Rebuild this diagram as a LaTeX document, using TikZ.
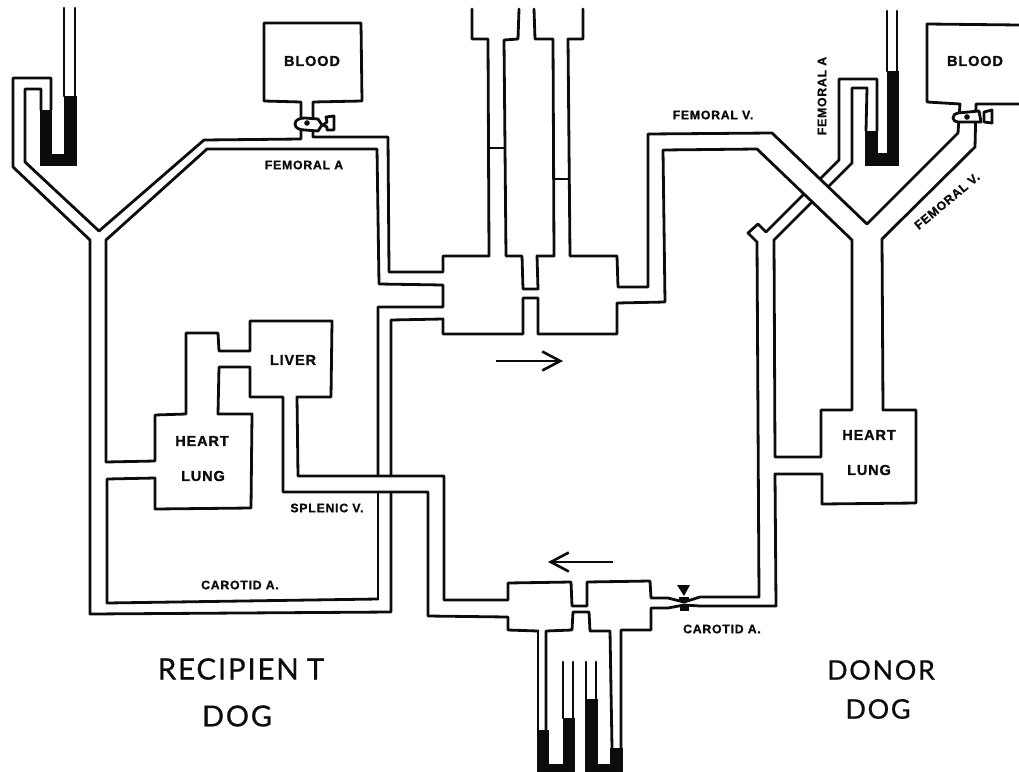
\documentclass[tikz,border=0pt]{standalone}
\usepackage{fontspec}
\setmainfont{Liberation Sans}
\newfontfamily\tagfont[LetterSpace=6,FakeBold=1.2]{Liberation Sans Bold}
\newfontfamily\bigfont[LetterSpace=6,FakeBold=0.7]{Lato}
\usetikzlibrary{arrows.meta}
\definecolor{inkblack}{HTML}{0C0C0C}
\begin{document}
\begin{tikzpicture}[
 x=1pt,y=-1pt,
 vessel/.style={draw=inkblack,line width=2.8pt,line join=round,line cap=round},
 thin vessel/.style={vessel,line width=2.2pt},
 mercury/.style={fill=inkblack,draw=inkblack,line width=.6pt},
 tag/.style={text=inkblack,font=\tagfont\fontsize{12.3}{14}\selectfont,inner sep=0pt},
 organ/.style={text=inkblack,font=\tagfont\fontsize{14.5}{16}\selectfont,inner sep=0pt},
 big/.style={text=inkblack,font=\bigfont\fontsize{27}{30}\selectfont,inner sep=0pt},
 flow/.style={-{Straight Barb[length=18pt,width=19pt]},draw=inkblack,line width=2.6pt}]
\useasboundingbox (0,0) rectangle (1019,771);
% recipient side
\draw[vessel] (51,110)--(51,78)--(13,78)--(13,167)--(90,240)--(90,614)--(391,612)--(391,493);
\draw[vessel] (41,110)--(41,89)--(25,89)--(25,162)--(99,231)--(204,140)--(301,139)--(301,102)--(264,101)--(264,23)--(361,23)--(362,101)--(313,102)--(313,137)--(388,137)--(389,272)--(443,272)--(443,256)--(489,256)--(488,39)--(472,39)--(472,9);
\draw[vessel] (106,462)--(106,240)--(207,149)--(377,149)--(379,284)--(443,285)--(443,307)--(378,307)--(378,476);
\draw[vessel] (391,476)--(391,320)--(443,319)--(443,334)--(523,334)--(523,298)--(538,298)--(538,334)--(617,334)--(617,303)--(665,302)--(663,150)--(757,149)--(852,240)--(852,410)--(821,410)--(821,457)--(775,457)--(774,240)--(811,203);
% liver and heart-lung
\draw[vessel] (106,462)--(155,461)--(155,415)--(186,414)--(186,333)--(218,333)--(219,351)--(250,351)--(250,321)--(332,321)--(331,397)--(297,397)--(298,476)--(444,476)--(444,600)--(508,600)--(508,583)--(571,582)--(572,606)--(587,606)--(587,582)--(650,581)--(651,598)--(668,598)--(684,602)--(700,597)--(759,597)--(757,242)--(748,233)--(758,224)--(766,232)--(803,195);
\draw[vessel] (378,599)--(107,603)--(107,479)--(155,478)--(155,509)--(251,508)--(252,414)--(218,414)--(219,367)--(250,367)--(250,397)--(283,397)--(283,492)--(428,492)--(428,616)--(508,617)--(508,630)--(538,631);
\draw[vessel] (378,493)--(378,599);
% upper pumps
\draw[vessel] (519,9)--(518,39)--(504,40)--(506,256)--(522,256)--(523,289)--(538,289)--(537,256)--(554,256)--(553,39)--(535,39)--(534,9);
\draw[vessel] (583,9)--(583,39)--(568,39)--(570,256)--(617,256)--(618,287)--(648,287)--(648,134)--(772,133)--(867,224)--(958,133)--(960,104)--(927,102)--(927,24)--(1019,25);
\draw[thin vessel] (488,148)--(505,148);
\draw[thin vessel] (553,179)--(568,179);
% donor side
\draw[vessel] (883,410)--(882,239)--(975,147)--(976,104)--(1019,104);
\draw[vessel] (883,410)--(916,410)--(916,503)--(822,504)--(822,474)--(775,474)--(776,606)--(700,606)--(684,605)--(668,608)--(651,608)--(651,630)--(621,630)--(621,770);
\draw[vessel] (877,131)--(877,79)--(839,79)--(839,160)--(820,179);
\draw[vessel] (866,131)--(867,88)--(852,88)--(852,163)--(828,187);
% lower pumps
\draw[vessel] (538,631)--(538,770);
\draw[vessel] (546,730)--(546,631)--(572,630)--(573,612)--(589,612)--(590,631)--(610,631)--(612,748);
% gauges
\draw[vessel] (64,8)--(64,96); \draw[vessel] (75,8)--(75,96);
\draw[vessel] (887,11)--(887,71); \draw[vessel] (897,11)--(897,71);
\draw[vessel] (563,662)--(563,718); \draw[vessel] (573,662)--(573,718);
\draw[vessel] (586,662)--(586,699); \draw[vessel] (596,662)--(596,699);
\fill[mercury] (40,110)--(51,110)--(51,154)--(64,154)--(64,96)--(76,96)--(76,165)--(40,165)--cycle;
\fill[mercury] (865,131)--(877,131)--(877,153)--(887,153)--(887,71)--(898,71)--(898,165)--(865,165)--cycle;
\fill[mercury] (537,730)--(548,730)--(548,764)--(563,764)--(563,718)--(574,718)--(574,771)--(537,771)--cycle;
\fill[mercury] (585,699)--(597,699)--(597,764)--(610,764)--(610,748)--(622,748)--(622,771)--(585,771)--cycle;
% stopcocks
\draw[vessel,fill=white] (295,124) to[out=90,in=180] (305,118)--(318,119)--(322,125)--(318,131)--(305,130) to[out=180,in=270] (295,124)--cycle;
\draw[vessel,fill=white] (323,125)--(327,122)--(326,117)--(334,116)--(334,130)--(327,130)--(327,127)--cycle;
\fill[inkblack] (307,123) circle (2.8);
\draw[vessel,fill=white] (953,118) to[out=90,in=180] (958,113)--(979,111)--(981,122)--(958,122) to[out=180,in=270] (953,118)--cycle;
\draw[vessel,fill=white] (984,112)--(992,110)--(992,123)--(984,122)--cycle;
\fill[inkblack] (967,117) circle (2.8);
% clamp
\fill[inkblack] (677,585)--(690,585)--(684,596)--cycle;
\fill[inkblack] (679,597) rectangle (689,601);
\fill[inkblack] (680,606) rectangle (689,611);
% labels
\node[organ] (blood left) at (312,61) {BLOOD};
\node[organ] (blood right) at (975,61) {BLOOD};
\node[organ] (liver) at (293,360) {LIVER};
\node[organ] (heart left) at (202,441) {HEART};
\node[organ] (lung left) at (203,476) {LUNG};
\node[organ] (heart right) at (869,435) {HEART};
\node[organ] (lung right) at (869,470) {LUNG};
\node[tag] (fem a left) at (304,165) {FEMORAL A};
\node[tag] (fem v top) at (713,115) {FEMORAL V.};
\node[tag,rotate=90] (fem a right) at (822,96) {FEMORAL A};
\node[tag,rotate=40] (fem v right) at (947,201) {FEMORAL V.};
\node[tag] (splenic) at (327,508) {SPLENIC V.};
\node[tag] (carotid left) at (240,585) {CAROTID A.};
\node[tag] (carotid right) at (722,629) {CAROTID A.};
\node[big,font=\bigfont\fontsize{29.5}{32}\selectfont] (recipient) at (241,669) {RECIPIEN\kern8pt T};
\node[big,font=\bigfont\fontsize{29}{32}\selectfont] (dog left) at (237,716) {DOG};
\node[big] (donor) at (881,670) {DONOR};
\node[big] (dog right) at (878,709) {DOG};
% flow arrows
\coordinate (in a) at (496,361);
\coordinate (in b) at (563,361);
\coordinate (out a) at (613,562);
\coordinate (out b) at (548,562);
\draw[flow] (in a)--(in b);
\draw[flow] (out a)--(out b);
\end{tikzpicture}
\end{document}
